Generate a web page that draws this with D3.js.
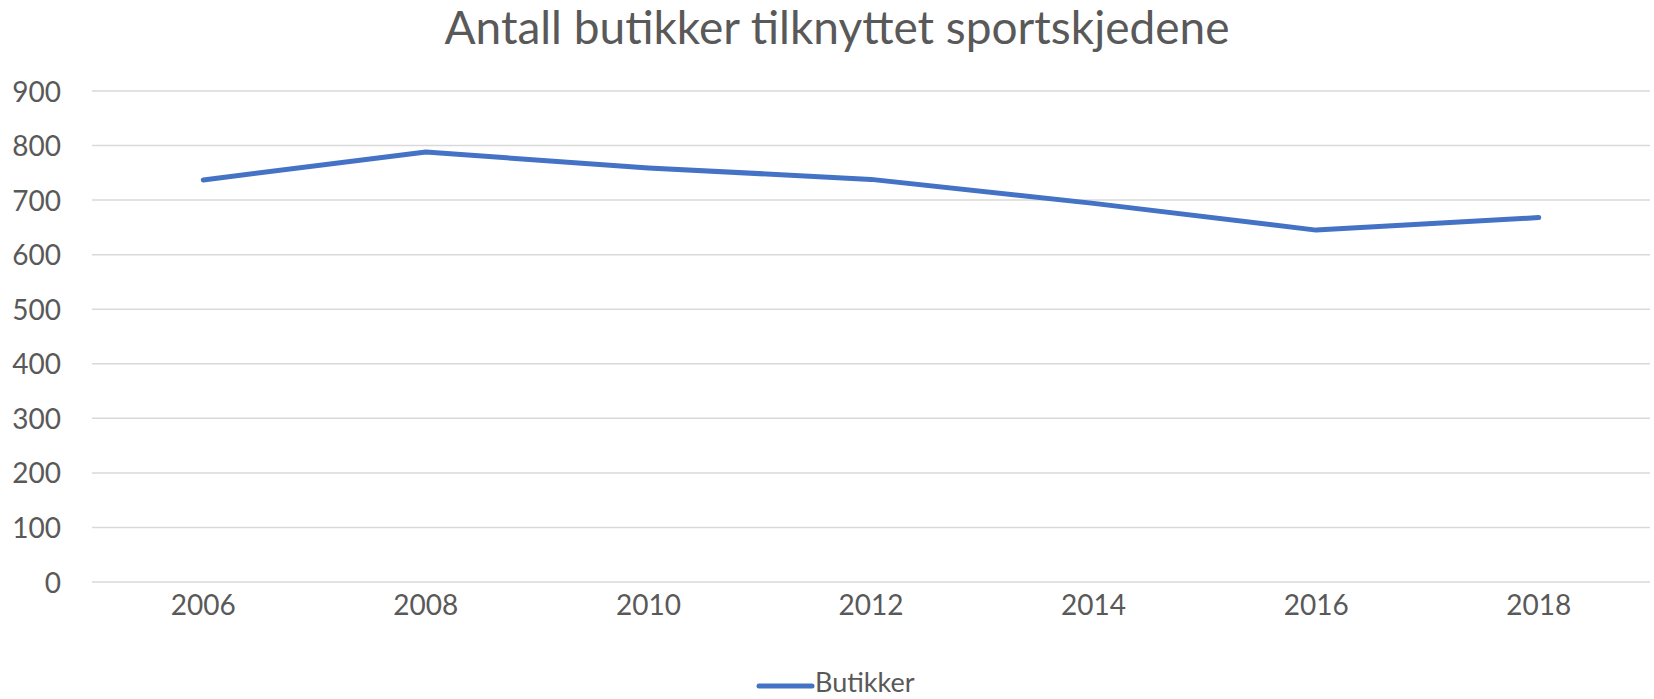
<!DOCTYPE html>
<html>
<head>
<meta charset="utf-8">
<script src="https://cdn.jsdelivr.net/npm/d3@7"></script>
<style>
  body { margin: 0; background: #fff; }
  text { font-family: Lato, "Open Sans", sans-serif; fill: #595959; }
</style>
</head>
<body>
<div id="chart"></div>
<script>
// ......................
// Data
var years = ["2006", "2008", "2010", "2012", "2014", "2016", "2018"];
var butikker = [737, 788, 759, 738, 694, 645, 668];
var yTicks = [0, 100, 200, 300, 400, 500, 600, 700, 800, 900];
var seriesName = "Butikker";
var chartTitle = "Antall butikker tilknyttet sportskjedene";

// ......................
// SVG area
var svgWidth = 1654;
var svgHeight = 699;

var margin = { top: 91, right: 4, bottom: 117, left: 92 };

var svg = d3.select("#chart")
    .append("svg")
    .attr("width", svgWidth)
    .attr("height", svgHeight);

// scales
var x = d3.scaleBand()
    .domain(years)
    .range([margin.left, svgWidth - margin.right]);

var y = d3.scaleLinear()
    .domain([0, 900])
    .range([svgHeight - margin.bottom, margin.top]);

// gridlines
svg.append("g")
    .selectAll("line")
    .data(yTicks)
    .enter()
    .append("line")
    .attr("x1", margin.left)
    .attr("x2", svgWidth - margin.right)
    .attr("y1", d => y(d))
    .attr("y2", d => y(d))
    .attr("stroke", "#d9d9d9")
    .attr("stroke-width", 1.5);

// y axis labels
var yAxis = d3.axisLeft(y).tickValues(yTicks).tickSize(0).tickPadding(0);
svg.append("g")
    .attr("transform", `translate(61, 0)`)
    .call(yAxis)
    .call(g => g.select(".domain").remove())
    .selectAll("text")
    .attr("font-size", 28)
    .attr("dy", "0.36em")
    .style("fill", "#595959");

// x axis labels
var xAxis = d3.axisBottom(x).tickSize(0).tickPadding(0);
svg.append("g")
    .attr("transform", `translate(0, 612)`)
    .call(xAxis)
    .call(g => g.select(".domain").remove())
    .selectAll("text")
    .attr("font-size", 28)
    .attr("dy", "0.1em")
    .style("fill", "#595959");

// line
var line = d3.line()
    .x((d, i) => x(years[i]) + x.bandwidth() / 2)
    .y(d => y(d));

svg.append("path")
    .datum(butikker)
    .attr("d", line)
    .attr("fill", "none")
    .attr("stroke", "#4472c4")
    .attr("stroke-width", 5)
    .attr("stroke-linecap", "round")
    .attr("stroke-linejoin", "round");

// title
svg.append("text")
    .attr("x", 837)
    .attr("y", 44)
    .attr("text-anchor", "middle")
    .attr("font-size", 46)
    .text(chartTitle);

// legend
var legend = svg.append("g");
legend.append("line")
    .attr("x1", 759)
    .attr("x2", 812)
    .attr("y1", 686)
    .attr("y2", 686)
    .attr("stroke", "#4472c4")
    .attr("stroke-width", 5)
    .attr("stroke-linecap", "round");
legend.append("text")
    .attr("x", 815)
    .attr("y", 692)
    .attr("font-size", 27)
    .text(seriesName);
</script>
</body>
</html>
